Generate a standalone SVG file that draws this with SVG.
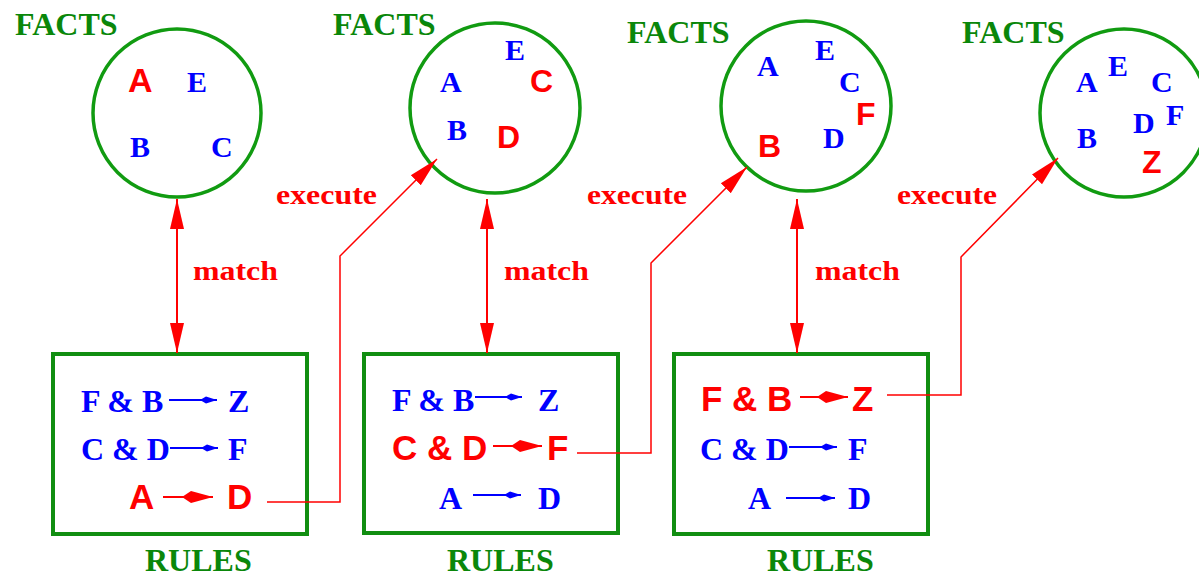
<svg xmlns="http://www.w3.org/2000/svg" width="1199" height="577" viewBox="0 0 1199 577">
<style>
.bg{fill:#ffffff}
.circ{fill:none;stroke:#119b11;stroke-width:3.5}
.box{fill:none;stroke:#118e11;stroke-width:4}
.title{font-family:"Liberation Serif",serif;font-weight:bold;font-size:32px;fill:#0a870a}
.fs{font-family:"Liberation Serif",serif;font-weight:bold;font-size:30px;fill:#0000ff}
.rs{font-family:"Liberation Serif",serif;font-weight:bold;font-size:32px;fill:#0000ff}
.hs{font-family:"Liberation Sans",Arial,sans-serif;font-weight:bold;font-size:32px;fill:#ff0000}
.hr{font-family:"Liberation Sans",Arial,sans-serif;font-weight:bold;font-size:35px;fill:#ff0000}
.lbl{font-family:"Liberation Serif",serif;font-weight:bold;font-size:28px;fill:#ff0000}
.conn{fill:none;stroke:#ff0000;stroke-width:1.5}
.match{fill:none;stroke:#ff0000;stroke-width:2}
.barrow{fill:none;stroke:#0000ff;stroke-width:2}
.rarrow{fill:none;stroke:#ff0000;stroke-width:2}
</style>
<defs>
<marker id="big" viewBox="0 0 30 16" refX="30" refY="8" markerWidth="30" markerHeight="16" markerUnits="userSpaceOnUse" orient="auto-start-reverse">
<path d="M0,1 L30,8 L0,15 Z" fill="#ff0000"/>
</marker>
<marker id="bsmall" viewBox="0 0 17 8" refX="17" refY="4" markerWidth="17" markerHeight="8" markerUnits="userSpaceOnUse" orient="auto">
<path d="M0,4 L6,0.5 L17,4 L6,7.5 Z" fill="#0000ff"/>
</marker>
<marker id="rhead" viewBox="0 0 31 12" refX="31" refY="6" markerWidth="31" markerHeight="12" markerUnits="userSpaceOnUse" orient="auto">
<path d="M0,6 L9,0 L31,6 L9,12 Z" fill="#ff0000"/>
</marker>
</defs>
<rect class="bg" x="0" y="0" width="1199" height="577"/>

<g id="facts1">
<circle class="circ" cx="177" cy="113" r="84"/>
<text class="title" x="15" y="35">FACTS</text>
<text class="hs" x="128" y="92" style="font-size:34px">A</text>
<text class="fs" x="187" y="92">E</text>
<text class="fs" x="130" y="157">B</text>
<text class="fs" x="211" y="157">C</text>
</g>

<g id="facts2">
<circle class="circ" cx="495" cy="108" r="85"/>
<text class="title" x="333" y="35">FACTS</text>
<text class="fs" x="505" y="60">E</text>
<text class="hs" x="530" y="92">C</text>
<text class="fs" x="440" y="92">A</text>
<text class="fs" x="447" y="140">B</text>
<text class="hs" x="497" y="148">D</text>
</g>

<g id="facts3">
<circle class="circ" cx="806" cy="106" r="85"/>
<text class="title" x="627" y="43">FACTS</text>
<text class="fs" x="757" y="76">A</text>
<text class="fs" x="815" y="60">E</text>
<text class="fs" x="839" y="92">C</text>
<text class="hs" x="856" y="125">F</text>
<text class="fs" x="823" y="148">D</text>
<text class="hs" x="758" y="157">B</text>
</g>

<g id="facts4">
<circle class="circ" cx="1124" cy="113" r="84"/>
<text class="title" x="962" y="43">FACTS</text>
<text class="fs" x="1076" y="92">A</text>
<text class="fs" x="1108" y="76">E</text>
<text class="fs" x="1151" y="92">C</text>
<text class="fs" x="1166" y="125">F</text>
<text class="fs" x="1133" y="133">D</text>
<text class="fs" x="1077" y="148">B</text>
<text class="hs" x="1142" y="173">Z</text>
</g>

<g id="rules1">
<rect class="box" x="53" y="354" width="254" height="180"/>
<text class="rs" x="81" y="412">F &amp; B</text>
<line class="barrow" x1="169" y1="400" x2="217" y2="400" marker-end="url(#bsmall)"/>
<text class="rs" x="228" y="412">Z</text>
<text class="rs" x="81" y="460">C &amp; D</text>
<line class="barrow" x1="170" y1="448" x2="218" y2="448" marker-end="url(#bsmall)"/>
<text class="rs" x="228" y="460">F</text>
<text class="hr" x="129" y="509">A</text>
<line class="rarrow" x1="163" y1="497" x2="213" y2="497" marker-end="url(#rhead)"/>
<text class="hr" x="227" y="509">D</text>
<text class="title" x="145" y="571">RULES</text>
</g>

<g id="rules2">
<rect class="box" x="364" y="354" width="254" height="179"/>
<text class="rs" x="392" y="411">F &amp; B</text>
<line class="barrow" x1="475" y1="397" x2="522" y2="397" marker-end="url(#bsmall)"/>
<text class="rs" x="538" y="411">Z</text>
<text class="hr" x="392" y="460">C &amp; D</text>
<line class="rarrow" x1="493" y1="446" x2="542" y2="446" marker-end="url(#rhead)"/>
<text class="hr" x="547" y="460">F</text>
<text class="rs" x="439" y="509">A</text>
<line class="barrow" x1="473" y1="495" x2="521" y2="495" marker-end="url(#bsmall)"/>
<text class="rs" x="538" y="509">D</text>
<text class="title" x="447" y="571">RULES</text>
</g>

<g id="rules3">
<rect class="box" x="674" y="354" width="254" height="180"/>
<text class="hr" x="701" y="411">F &amp; B</text>
<line class="rarrow" x1="800" y1="397" x2="848" y2="397" marker-end="url(#rhead)"/>
<text class="hr" x="852" y="411">Z</text>
<text class="rs" x="700" y="460">C &amp; D</text>
<line class="barrow" x1="789" y1="447" x2="837" y2="447" marker-end="url(#bsmall)"/>
<text class="rs" x="848" y="460">F</text>
<text class="rs" x="748" y="509">A</text>
<line class="barrow" x1="786" y1="498" x2="835" y2="498" marker-end="url(#bsmall)"/>
<text class="rs" x="848" y="509">D</text>
<text class="title" x="767" y="571">RULES</text>
</g>

<g id="connectors">
<line class="match" x1="177" y1="199" x2="177" y2="353" marker-start="url(#big)" marker-end="url(#big)"/>
<line class="match" x1="487" y1="199" x2="487" y2="353" marker-start="url(#big)" marker-end="url(#big)"/>
<line class="match" x1="797" y1="199" x2="797" y2="353" marker-start="url(#big)" marker-end="url(#big)"/>
<text class="lbl" x="193" y="280" textLength="85" lengthAdjust="spacingAndGlyphs">match</text>
<text class="lbl" x="504" y="280" textLength="85" lengthAdjust="spacingAndGlyphs">match</text>
<text class="lbl" x="815" y="280" textLength="85" lengthAdjust="spacingAndGlyphs">match</text>
<polyline class="conn" points="267,502 340,502 340,256 437,159" marker-end="url(#big)"/>
<polyline class="conn" points="577,453 651,453 651,263 747,167" marker-end="url(#big)"/>
<polyline class="conn" points="887,395 961,395 961,257 1058,158" marker-end="url(#big)"/>
<text class="lbl" x="276" y="204" textLength="101" lengthAdjust="spacingAndGlyphs">execute</text>
<text class="lbl" x="587" y="204" textLength="100" lengthAdjust="spacingAndGlyphs">execute</text>
<text class="lbl" x="897" y="204" textLength="100" lengthAdjust="spacingAndGlyphs">execute</text>
</g>
</svg>
